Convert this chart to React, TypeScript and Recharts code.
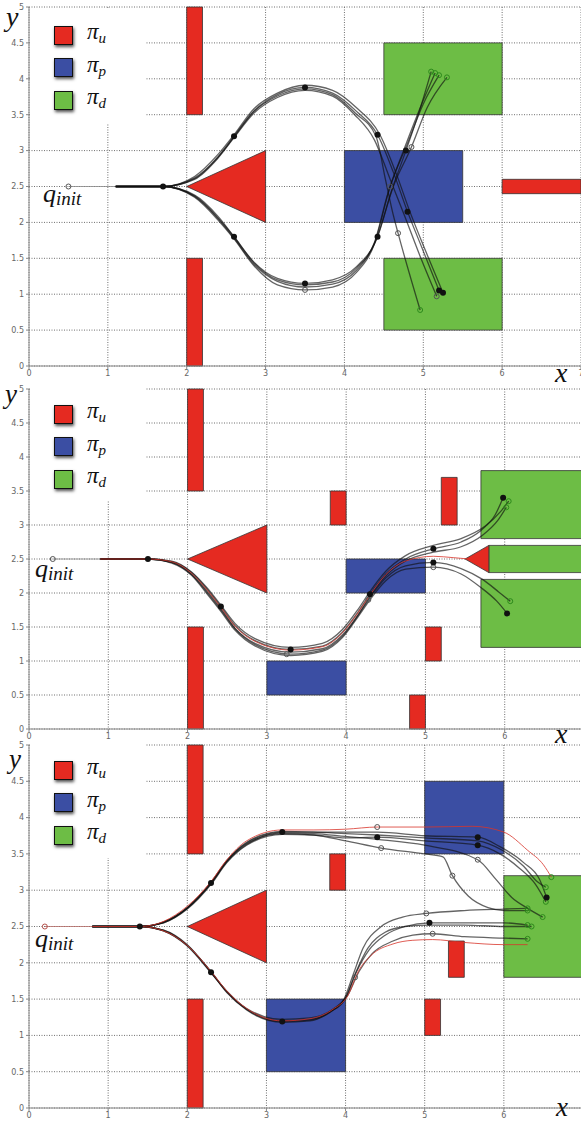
import { ComposedChart, XAxis, YAxis, CartesianGrid, ReferenceArea, Line, Scatter } from 'recharts';

type Pt = { x: number; y: number };
type Box = { x1: number; x2: number; y1: number; y2: number };

const pts = (rows: number[][]): Pt[] => rows.map(([x, y]) => ({ x, y }));

const X_TICKS_TOP = [0, 1, 2, 3, 4, 5, 6, 7];
const X_TICKS = [0, 1, 2, 3, 4, 5, 6];
const Y_TICKS = [0, 0.5, 1, 1.5, 2, 2.5, 3, 3.5, 4, 4.5, 5];

const RED = '#e52a21';
const BLUE = '#3b4ea3';
const GREEN = '#6dbd45';

// ---------- panel 1 ----------
const p1Red: Box[] = [
  { x1: 2, x2: 2.2, y1: 3.5, y2: 5 },
  { x1: 2, x2: 2.2, y1: 0, y2: 1.5 },
  { x1: 6, x2: 7, y1: 2.4, y2: 2.6 },
];
const p1Blue: Box[] = [{ x1: 4, x2: 5.5, y1: 2, y2: 3 }];
const p1Green: Box[] = [
  { x1: 4.5, x2: 6, y1: 3.5, y2: 4.5 },
  { x1: 4.5, x2: 6, y1: 0.5, y2: 1.5 },
];
const p1Tri: Box[] = [{ x1: 2, x2: 3, y1: 2, y2: 3 }];

const p1Trunk = pts([[0.5, 2.5], [1.1, 2.5]]);
const p1Up1 = pts([[1.1, 2.5], [1.7, 2.5], [2.1, 2.62], [2.4, 2.92], [2.6, 3.2], [2.85, 3.55], [3.15, 3.78], [3.5, 3.88], [3.85, 3.8], [4.15, 3.55], [4.42, 3.22], [4.62, 2.7], [4.8, 2.15], [5.0, 1.6], [5.2, 1.05]]);
const p1Up2 = pts([[1.1, 2.5], [1.7, 2.5], [2.1, 2.64], [2.4, 2.95], [2.6, 3.22], [2.85, 3.58], [3.15, 3.8], [3.5, 3.91], [3.85, 3.84], [4.15, 3.6], [4.45, 3.22], [4.65, 2.7], [4.83, 2.15], [5.03, 1.6], [5.25, 1.02]]);
const p1Up3 = pts([[1.1, 2.5], [1.7, 2.5], [2.1, 2.6], [2.4, 2.9], [2.6, 3.18], [2.85, 3.52], [3.15, 3.74], [3.5, 3.84], [3.85, 3.76], [4.13, 3.5], [4.38, 3.15], [4.58, 2.6], [4.76, 2.1], [4.97, 1.5], [5.17, 0.97]]);
const p1Up4 = pts([[1.1, 2.5], [1.7, 2.5], [2.1, 2.61], [2.4, 2.91], [2.6, 3.19], [2.85, 3.54], [3.15, 3.76], [3.5, 3.86], [3.85, 3.78], [4.14, 3.52], [4.4, 3.2], [4.52, 2.6], [4.62, 2.1], [4.68, 1.85], [4.96, 0.78]]);
const p1Lo1 = pts([[1.1, 2.5], [1.7, 2.5], [2.1, 2.38], [2.4, 2.08], [2.6, 1.8], [2.85, 1.45], [3.15, 1.22], [3.5, 1.15], [3.85, 1.2], [4.15, 1.38], [4.42, 1.8], [4.6, 2.45], [4.78, 3.0], [4.95, 3.55], [5.1, 4.1]]);
const p1Lo2 = pts([[1.1, 2.5], [1.7, 2.5], [2.1, 2.36], [2.4, 2.05], [2.6, 1.78], [2.85, 1.42], [3.15, 1.18], [3.5, 1.1], [3.85, 1.14], [4.15, 1.33], [4.4, 1.75], [4.62, 2.5], [4.85, 3.05], [5.05, 3.6], [5.3, 4.02]]);
const p1Lo3 = pts([[1.1, 2.5], [1.7, 2.5], [2.1, 2.37], [2.4, 2.06], [2.6, 1.8], [2.85, 1.44], [3.15, 1.2], [3.5, 1.13], [3.85, 1.17], [4.15, 1.36], [4.38, 1.72], [4.55, 2.4], [4.75, 3.0], [5.0, 3.7], [5.15, 4.08]]);
const p1Lo4 = pts([[1.1, 2.5], [1.7, 2.5], [2.1, 2.35], [2.4, 2.03], [2.6, 1.77], [2.85, 1.4], [3.15, 1.13], [3.5, 1.06], [3.85, 1.1], [4.15, 1.3], [4.38, 1.7], [4.58, 2.5], [4.8, 3.1], [5.0, 3.65], [5.2, 4.05]]);
const p1Nodes = pts([[1.7, 2.5], [2.6, 3.2], [2.6, 1.8], [3.5, 3.88], [3.5, 1.15], [4.42, 3.22], [4.42, 1.8], [4.8, 2.15], [4.78, 3.0], [5.2, 1.05], [5.25, 1.02]]);
const p1Rings = pts([[0.5, 2.5], [3.5, 1.06], [4.58, 2.5], [4.85, 3.05], [4.68, 1.85], [5.17, 0.97]]);
const p1Ends = pts([[5.1, 4.1], [5.3, 4.02], [5.15, 4.08], [5.2, 4.05], [4.96, 0.78]]);

// ---------- panel 2 ----------
const p2Red: Box[] = [
  { x1: 2, x2: 2.2, y1: 3.5, y2: 5 },
  { x1: 2, x2: 2.2, y1: 0, y2: 1.5 },
  { x1: 3.8, x2: 4, y1: 3, y2: 3.5 },
  { x1: 5.2, x2: 5.4, y1: 3, y2: 3.7 },
  { x1: 5, x2: 5.2, y1: 1, y2: 1.5 },
  { x1: 4.8, x2: 5, y1: 0, y2: 0.5 },
];
const p2Blue: Box[] = [
  { x1: 4, x2: 5, y1: 2, y2: 2.5 },
  { x1: 3, x2: 4, y1: 0.5, y2: 1 },
];
const p2Green: Box[] = [
  { x1: 5.7, x2: 7, y1: 2.8, y2: 3.8 },
  { x1: 5.8, x2: 7, y1: 2.3, y2: 2.7 },
  { x1: 5.7, x2: 7, y1: 1.2, y2: 2.2 },
];
const p2Tri: Box[] = [
  { x1: 2, x2: 3, y1: 2, y2: 3 },
  { x1: 5.5, x2: 5.8, y1: 2.3, y2: 2.7 },
];

const p2Trunk = pts([[0.3, 2.5], [0.9, 2.5]]);
const p2Up1 = pts([[0.9, 2.5], [1.5, 2.5], [1.8, 2.46], [2.05, 2.3], [2.25, 2.05], [2.42, 1.8], [2.6, 1.52], [2.85, 1.3], [3.3, 1.17], [3.7, 1.22], [3.95, 1.42], [4.15, 1.72], [4.3, 1.98], [4.5, 2.28], [4.75, 2.5], [5.1, 2.65], [5.45, 2.75], [5.7, 2.92], [5.88, 3.15], [5.98, 3.4]]);
const p2Up2 = pts([[0.9, 2.5], [1.5, 2.5], [1.8, 2.45], [2.05, 2.28], [2.25, 2.02], [2.42, 1.77], [2.6, 1.48], [2.85, 1.26], [3.3, 1.13], [3.7, 1.18], [3.95, 1.38], [4.15, 1.68], [4.3, 1.95], [4.5, 2.25], [4.75, 2.47], [5.1, 2.6], [5.45, 2.68], [5.72, 2.85], [5.92, 3.08], [6.02, 3.26]]);
const p2Up3 = pts([[0.9, 2.5], [1.5, 2.5], [1.8, 2.47], [2.05, 2.31], [2.25, 2.07], [2.42, 1.82], [2.6, 1.55], [2.85, 1.33], [3.3, 1.2], [3.7, 1.26], [3.95, 1.46], [4.15, 1.76], [4.3, 2.02], [4.5, 2.32], [4.75, 2.55], [5.1, 2.7], [5.45, 2.8], [5.75, 2.98], [5.95, 3.2], [6.05, 3.35]]);
const p2Lo1 = pts([[0.9, 2.5], [1.5, 2.5], [1.8, 2.45], [2.05, 2.27], [2.25, 2.0], [2.42, 1.75], [2.6, 1.47], [2.85, 1.24], [3.3, 1.1], [3.7, 1.16], [3.95, 1.36], [4.15, 1.67], [4.3, 1.93], [4.5, 2.22], [4.75, 2.4], [5.1, 2.45], [5.45, 2.36], [5.72, 2.2], [5.92, 2.02], [6.07, 1.88]]);
const p2Lo2 = pts([[0.9, 2.5], [1.5, 2.5], [1.8, 2.44], [2.05, 2.26], [2.25, 1.98], [2.42, 1.73], [2.6, 1.45], [2.85, 1.22], [3.3, 1.08], [3.7, 1.14], [3.95, 1.34], [4.15, 1.65], [4.3, 1.9], [4.5, 2.18], [4.75, 2.35], [5.1, 2.38], [5.45, 2.28], [5.7, 2.08], [5.9, 1.88], [6.03, 1.7]]);
const p2Red1 = pts([[0.9, 2.5], [1.5, 2.5], [1.8, 2.46], [2.05, 2.29], [2.25, 2.04], [2.42, 1.79], [2.6, 1.51], [2.85, 1.29], [3.3, 1.16], [3.7, 1.21], [3.95, 1.41], [4.15, 1.71], [4.3, 1.97], [4.5, 2.27], [4.75, 2.47], [5.1, 2.54], [5.35, 2.52], [5.55, 2.5]]);
const p2Nodes = pts([[1.5, 2.5], [2.42, 1.8], [3.3, 1.17], [4.3, 1.98], [5.1, 2.65], [5.1, 2.45], [5.98, 3.4], [6.03, 1.7]]);
const p2Rings = pts([[0.3, 2.5], [3.25, 1.1], [5.1, 2.38], [4.28, 1.9]]);
const p2Ends = pts([[6.02, 3.26], [6.05, 3.35], [6.07, 1.88]]);

// ---------- panel 3 ----------
const p3Red: Box[] = [
  { x1: 2, x2: 2.2, y1: 3.5, y2: 5 },
  { x1: 2, x2: 2.2, y1: 0, y2: 1.5 },
  { x1: 3.8, x2: 4, y1: 3, y2: 3.5 },
  { x1: 5.3, x2: 5.5, y1: 1.8, y2: 2.3 },
  { x1: 5, x2: 5.2, y1: 1, y2: 1.5 },
];
const p3Blue: Box[] = [
  { x1: 3, x2: 4, y1: 0.5, y2: 1.5 },
  { x1: 5, x2: 6, y1: 3.5, y2: 4.5 },
];
const p3Green: Box[] = [{ x1: 6, x2: 7, y1: 1.8, y2: 3.2 }];
const p3Tri: Box[] = [{ x1: 2, x2: 3, y1: 2, y2: 3 }];

const p3Trunk = pts([[0.2, 2.5], [0.8, 2.5]]);
const p3Up1 = pts([[0.8, 2.5], [1.4, 2.5], [1.7, 2.56], [2.0, 2.76], [2.3, 3.1], [2.5, 3.4], [2.75, 3.65], [3.2, 3.8], [3.6, 3.8], [4.0, 3.8], [4.4, 3.8], [5.0, 3.75], [5.67, 3.73], [5.95, 3.6], [6.25, 3.38], [6.45, 3.15], [6.54, 2.9]]);
const p3Up2 = pts([[0.8, 2.5], [1.4, 2.5], [1.7, 2.55], [2.0, 2.74], [2.3, 3.08], [2.5, 3.38], [2.75, 3.62], [3.2, 3.77], [3.6, 3.76], [4.0, 3.72], [4.4, 3.73], [5.0, 3.68], [5.67, 3.62], [5.95, 3.5], [6.2, 3.3], [6.4, 3.08], [6.53, 2.84]]);
const p3Up3 = pts([[0.8, 2.5], [1.4, 2.5], [1.7, 2.55], [2.0, 2.75], [2.3, 3.1], [2.5, 3.4], [2.75, 3.64], [3.2, 3.78], [3.6, 3.76], [4.0, 3.68], [4.45, 3.58], [5.0, 3.5], [5.23, 3.46], [5.35, 3.2], [5.55, 2.92], [5.8, 2.76], [6.0, 2.72], [6.3, 2.72]]);
const p3Up4 = pts([[0.8, 2.5], [1.4, 2.5], [1.7, 2.56], [2.0, 2.75], [2.3, 3.09], [2.5, 3.39], [2.75, 3.63], [3.2, 3.79], [3.6, 3.78], [4.0, 3.74], [4.4, 3.7], [5.0, 3.62], [5.67, 3.42], [5.9, 3.15], [6.1, 2.9], [6.3, 2.75], [6.49, 2.63]]);
const p3Up5 = pts([[0.8, 2.5], [1.4, 2.5], [1.7, 2.56], [2.0, 2.76], [2.3, 3.11], [2.5, 3.41], [2.75, 3.66], [3.2, 3.81], [3.6, 3.8], [4.0, 3.78], [4.4, 3.76], [5.0, 3.72], [5.67, 3.68], [5.98, 3.55], [6.25, 3.33], [6.42, 3.12], [6.53, 3.04]]);
const p3UpRed = pts([[0.8, 2.5], [1.4, 2.5], [1.7, 2.57], [2.0, 2.78], [2.3, 3.12], [2.5, 3.42], [2.75, 3.68], [3.2, 3.83], [3.6, 3.83], [4.0, 3.84], [4.4, 3.87], [5.0, 3.87], [5.6, 3.88], [6.0, 3.8], [6.3, 3.55], [6.5, 3.35], [6.6, 3.18]]);
const p3Lo1 = pts([[0.8, 2.5], [1.4, 2.5], [1.7, 2.44], [2.0, 2.24], [2.3, 1.88], [2.5, 1.6], [2.75, 1.36], [3.2, 1.2], [3.55, 1.22], [3.82, 1.34], [4.0, 1.52], [4.14, 1.88], [4.3, 2.18], [4.5, 2.38], [4.75, 2.5], [5.06, 2.55], [5.5, 2.55], [6.0, 2.55], [6.3, 2.52]]);
const p3Lo2 = pts([[0.8, 2.5], [1.4, 2.5], [1.7, 2.45], [2.0, 2.25], [2.3, 1.87], [2.5, 1.59], [2.75, 1.35], [3.2, 1.18], [3.55, 1.2], [3.8, 1.32], [3.98, 1.5], [4.1, 1.85], [4.22, 2.2], [4.45, 2.5], [4.72, 2.63], [5.02, 2.68], [5.5, 2.72], [6.0, 2.74], [6.3, 2.75]]);
const p3Lo3 = pts([[0.8, 2.5], [1.4, 2.5], [1.7, 2.44], [2.0, 2.23], [2.3, 1.86], [2.5, 1.61], [2.75, 1.37], [3.2, 1.22], [3.55, 1.24], [3.84, 1.36], [4.02, 1.54], [4.17, 1.88], [4.33, 2.12], [4.6, 2.3], [4.85, 2.38], [5.1, 2.4], [5.5, 2.36], [6.0, 2.34], [6.3, 2.33]]);
const p3Lo4 = pts([[0.8, 2.5], [1.4, 2.5], [1.7, 2.45], [2.0, 2.24], [2.3, 1.87], [2.5, 1.6], [2.75, 1.36], [3.2, 1.19], [3.55, 1.21], [3.82, 1.33], [4.0, 1.51], [4.13, 1.87], [4.28, 2.2], [4.5, 2.42], [4.75, 2.5], [5.06, 2.52], [5.5, 2.52], [6.0, 2.5], [6.35, 2.5]]);
const p3LoRed = pts([[0.8, 2.5], [1.4, 2.5], [1.7, 2.44], [2.0, 2.24], [2.3, 1.88], [2.5, 1.61], [2.75, 1.37], [3.2, 1.2], [3.55, 1.23], [3.84, 1.36], [4.03, 1.55], [4.16, 1.88], [4.32, 2.1], [4.6, 2.26], [4.85, 2.31], [5.1, 2.32], [5.5, 2.28], [6.0, 2.25], [6.3, 2.25]]);
const p3Nodes = pts([[1.4, 2.5], [2.3, 3.1], [2.3, 1.87], [3.2, 3.8], [3.2, 1.19], [5.06, 2.55], [5.67, 3.73], [5.67, 3.62], [4.4, 3.73], [6.54, 2.9]]);
const p3Rings = pts([[4.4, 3.87], [4.45, 3.58], [5.02, 2.68], [5.1, 2.4], [5.67, 3.42], [5.35, 3.2], [4.12, 1.8]]);
const p3Start = pts([[0.2, 2.5]]);
const p3Ends = pts([[6.3, 2.75], [6.3, 2.52], [6.3, 2.33], [6.35, 2.5], [6.53, 2.84], [6.6, 3.18], [6.49, 2.63], [6.3, 2.72], [6.53, 3.04]]);

type Traj = { data: Pt[]; color: string; width: number; opacity: number };
const ink = (data: Pt[]): Traj => ({ data, color: '#111', width: 1.3, opacity: 0.65 });
const redInk = (data: Pt[]): Traj => ({ data, color: '#d8352b', width: 1, opacity: 0.8 });
const trunk = (data: Pt[], color: string): Traj => ({ data, color, width: 1.2, opacity: 0.8 });

const tickStyle = { fontSize: 8, fill: '#666', fontFamily: 'DejaVu Sans, sans-serif' };

const Triangle = (p: any) => {
  const { x, y, width, height } = p;
  return (
    <polygon
      points={`${x},${y + height / 2} ${x + width},${y} ${x + width},${y + height}`}
      fill={RED}
      stroke="#333"
      strokeWidth={0.8}
    />
  );
};
const NodeDot = (p: any) => <circle cx={p.cx} cy={p.cy} r={3} fill="#111" />;
const Ring = (p: any) => <circle cx={p.cx} cy={p.cy} r={2.5} fill="none" stroke="#555" strokeWidth={1} />;
const RedRing = (p: any) => <circle cx={p.cx} cy={p.cy} r={2.5} fill="none" stroke="#b4504a" strokeWidth={1} />;
const EndRing = (p: any) => <circle cx={p.cx} cy={p.cy} r={2.5} fill="none" stroke="#2d8a1c" strokeWidth={1} />;

type PanelProps = {
  top: number;
  height: number;
  marginTop: number;
  width: number;
  xTicks: number[];
  red: Box[];
  blue: Box[];
  green: Box[];
  tris: Box[];
  trajs: Traj[];
  nodes: Pt[];
  rings: Pt[];
  redRings?: Pt[];
  ends: Pt[];
};

const Panel = ({ top, height, marginTop, width, xTicks, red, blue, green, tris, trajs, nodes, rings, redRings = [], ends }: PanelProps) => {
  const boxes = [
    ...red.map((b) => ({ ...b, fill: RED })),
    ...blue.map((b) => ({ ...b, fill: BLUE })),
    ...green.map((b) => ({ ...b, fill: GREEN })),
  ];
  return (
    <div style={{ position: 'absolute', left: 0, top, width, height }}>
      <ComposedChart width={width} height={height} margin={{ top: marginTop, right: 0, bottom: 0, left: 0 }}>
        <CartesianGrid stroke="#6f6f6f" strokeDasharray="1 1.5" />
        <XAxis
          type="number"
          dataKey="x"
          domain={[0, 7]}
          ticks={xTicks}
          interval={0}
          allowDataOverflow
          height={14}
          tickSize={3}
          tickMargin={1}
          tick={tickStyle}
          axisLine={{ stroke: '#888' }}
          tickLine={{ stroke: '#888' }}
        />
        <YAxis
          type="number"
          dataKey="y"
          domain={[0, 5]}
          ticks={Y_TICKS}
          interval={0}
          allowDataOverflow
          width={29}
          tickSize={3}
          tickMargin={2}
          tick={tickStyle}
          axisLine={{ stroke: '#888' }}
          tickLine={{ stroke: '#888' }}
        />
        {boxes.map((b, i) => (
          <ReferenceArea
            key={`b${i}`}
            x1={b.x1}
            x2={b.x2}
            y1={b.y1}
            y2={b.y2}
            fill={b.fill}
            fillOpacity={1}
            stroke="#333"
            strokeWidth={0.8}
            ifOverflow="visible"
          />
        ))}
        {tris.map((b, i) => (
          <ReferenceArea key={`t${i}`} x1={b.x1} x2={b.x2} y1={b.y1} y2={b.y2} shape={Triangle} ifOverflow="visible" />
        ))}
        {trajs.map((t, i) => (
          <Line
            key={`l${i}`}
            data={t.data}
            dataKey="y"
            type="monotone"
            stroke={t.color}
            strokeWidth={t.width}
            strokeOpacity={t.opacity}
            dot={false}
            activeDot={false}
            isAnimationActive={false}
          />
        ))}
        <Scatter data={rings} dataKey="y" shape={Ring} isAnimationActive={false} />
        <Scatter data={redRings} dataKey="y" shape={RedRing} isAnimationActive={false} />
        <Scatter data={ends} dataKey="y" shape={EndRing} isAnimationActive={false} />
        <Scatter data={nodes} dataKey="y" shape={NodeDot} isAnimationActive={false} />
      </ComposedChart>
    </div>
  );
};

const serif = "'Liberation Serif', 'DejaVu Serif', serif";

const legendItems = [
  { color: RED, sub: 'u' },
  { color: BLUE, sub: 'p' },
  { color: GREEN, sub: 'd' },
];

const LegendBox = ({ top, boxBottom }: { top: number; boxBottom: number }) => (
  <div style={{ position: 'absolute', left: 30, top: top - 14, width: 115, height: boxBottom - top + 14, background: '#fff' }}>
    {legendItems.map((it, i) => (
      <div key={it.sub} style={{ position: 'absolute', left: 24, top: 14 + i * 32.5, display: 'flex', alignItems: 'center' }}>
        <div
          style={{
            width: 17,
            height: 17,
            background: it.color,
            border: '1px solid #111',
            boxShadow: '1px 2px 3px rgba(0,0,0,0.7)',
          }}
        />
        <span style={{ marginLeft: 14, fontFamily: serif, fontStyle: 'italic', fontSize: 23, lineHeight: '18px', color: '#111' }}>
          π<sub style={{ fontSize: 15, verticalAlign: '-4px' }}>{it.sub}</sub>
        </span>
      </div>
    ))}
  </div>
);

const Italic = ({ left, top, size, lh = 1, children }: { left: number; top: number; size: number; lh?: number; children: any }) => (
  <div style={{ position: 'absolute', left, top, fontFamily: serif, fontStyle: 'italic', fontSize: size, lineHeight: lh, color: '#111' }}>
    {children}
  </div>
);

const QInit = ({ left, top }: { left: number; top: number }) => (
  <Italic left={left} top={top} size={26}>
    q<span style={{ fontSize: 19, position: 'relative', top: 3 }}>init</span>
  </Italic>
);

export default function App() {
  return (
    <div style={{ position: 'absolute', left: 0, top: 0, width: 581, height: 1125, overflow: 'hidden', background: '#fff' }}>
      <Panel
        top={0}
        height={380}
        marginTop={7}
        width={581}
        xTicks={X_TICKS_TOP}
        red={p1Red}
        blue={p1Blue}
        green={p1Green}
        tris={p1Tri}
        trajs={[trunk(p1Trunk, '#888'), ink(p1Up1), ink(p1Up2), ink(p1Up3), ink(p1Up4), ink(p1Lo1), ink(p1Lo2), ink(p1Lo3), ink(p1Lo4)]}
        nodes={p1Nodes}
        rings={p1Rings}
        ends={p1Ends}
      />
      <Panel
        top={380}
        height={363}
        marginTop={9}
        width={584}
        xTicks={X_TICKS}
        red={p2Red}
        blue={p2Blue}
        green={p2Green}
        tris={p2Tri}
        trajs={[trunk(p2Trunk, '#888'), ink(p2Up1), ink(p2Up2), ink(p2Up3), ink(p2Lo1), ink(p2Lo2), redInk(p2Red1)]}
        nodes={p2Nodes}
        rings={p2Rings}
        ends={p2Ends}
      />
      <Panel
        top={737}
        height={385}
        marginTop={8}
        width={583}
        xTicks={X_TICKS}
        red={p3Red}
        blue={p3Blue}
        green={p3Green}
        tris={p3Tri}
        trajs={[trunk(p3Trunk, '#b46a66'), ink(p3Up1), ink(p3Up2), ink(p3Up3), ink(p3Up4), ink(p3Up5), redInk(p3UpRed), ink(p3Lo1), ink(p3Lo2), ink(p3Lo3), ink(p3Lo4), redInk(p3LoRed)]}
        nodes={p3Nodes}
        rings={p3Rings}
        redRings={p3Start}
        ends={p3Ends}
      />

      <LegendBox top={23} boxBottom={123} />
      <LegendBox top={402} boxBottom={500} />
      <LegendBox top={758} boxBottom={858} />

      <Italic left={6} top={3} size={28}>y</Italic>
      <Italic left={5} top={381} size={27}>y</Italic>
      <Italic left={9} top={746} size={27}>y</Italic>

      <Italic left={555} top={362} size={28} lh={0.8}>x</Italic>
      <Italic left={555} top={723} size={28} lh={0.8}>x</Italic>
      <Italic left={556} top={1097} size={27} lh={0.8}>x</Italic>

      <QInit left={43} top={181} />
      <QInit left={35} top={556} />
      <QInit left={35} top={926} />
    </div>
  );
}
